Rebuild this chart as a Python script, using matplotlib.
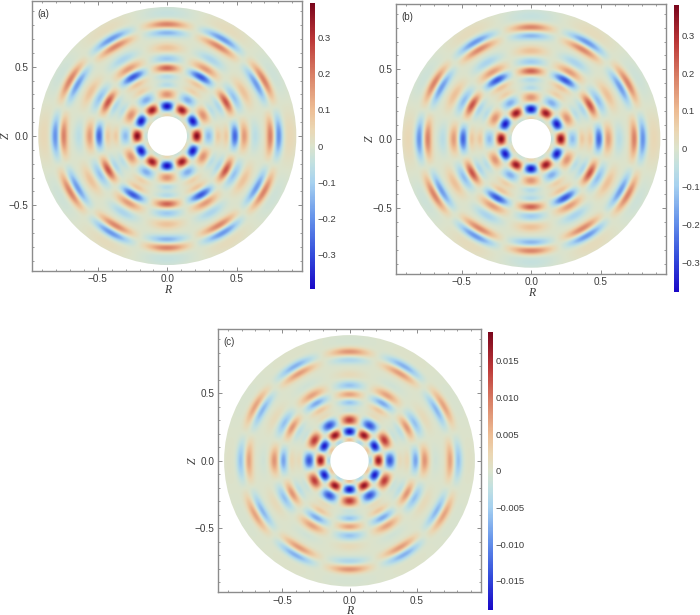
import numpy as np
import matplotlib
matplotlib.use("Agg")
import matplotlib.pyplot as plt
from matplotlib.colors import LinearSegmentedColormap
from matplotlib.patches import Circle
from matplotlib.ticker import FixedLocator, MultipleLocator

# lobes: one list per spoke, one entry per ring
ring_r = [0.158, 0.215, 0.298, 0.365, 0.43, 0.49, 0.555, 0.635, 0.745, 0.805, 0.885]
ring_width = [0.018, 0.026, 0.029, 0.02, 0.02, 0.023, 0.025, 0.025, 0.022, 0.022, 0.04]
ring_spread = [9, 10, 8.5, 7, 7, 7.5, 7.5, 7, 7.5, 7.5, 9]
spoke_deg = [0, 30, 60, 90]

a_spoke0 = [-0.06, 0.39, -0.14, 0.08, 0.08, -0.27, 0.16, -0.06, 0.20, -0.21, 0.04]
a_spoke30 = [0.05, -0.39, 0.17, -0.07, -0.09, 0.26, -0.13, 0.09, -0.19, 0.20, -0.025]
a_spoke60 = [-0.05, 0.36, -0.16, 0.07, 0.09, -0.29, 0.16, -0.09, 0.19, -0.20, 0.03]
a_spoke90 = [0.07, -0.40, 0.17, -0.08, -0.08, 0.24, -0.12, 0.09, -0.15, 0.20, -0.04]

b_spoke0 = [-0.06, 0.37, -0.13, 0.08, 0.08, -0.26, 0.15, -0.06, 0.19, -0.20, 0.04]
b_spoke30 = [0.05, -0.37, 0.16, -0.07, -0.09, 0.25, -0.13, 0.09, -0.18, 0.19, -0.025]
b_spoke60 = [-0.05, 0.35, -0.15, 0.07, 0.09, -0.28, 0.15, -0.09, 0.18, -0.19, 0.03]
b_spoke90 = [0.07, -0.38, 0.16, -0.08, -0.08, 0.23, -0.11, 0.09, -0.14, 0.19, -0.04]

c_spoke0 = [-0.005, 0.0175, -0.014, 0.0022, 0.0022, -0.0085, 0.008, -0.001, 0.007, -0.0062, 0.0004]
c_spoke30 = [0.005, -0.0185, 0.014, -0.0022, -0.003, 0.008, -0.0062, 0.0017, -0.007, 0.007, -0.0003]
c_spoke60 = [-0.005, 0.018, -0.014, 0.0022, 0.004, -0.008, 0.007, -0.001, 0.0075, -0.0075, 0.0003]
c_spoke90 = [0.006, -0.019, 0.014, -0.0022, -0.006, 0.007, -0.006, 0.0017, -0.0042, 0.008, -0.0006]

tick_ab = [-0.3, -0.2, -0.1, 0, 0.1, 0.2, 0.3]
labels_ab = ["\u22120.3", "\u22120.2", "\u22120.1", "0", "0.1", "0.2", "0.3"]
tick_c = [-0.015, -0.01, -0.005, 0, 0.005, 0.01, 0.015]
labels_c = ["\u22120.015", "\u22120.010", "\u22120.005", "0", "0.005", "0.010", "0.015"]

plt.rcParams["font.family"] = ["Liberation Sans", "DejaVu Sans"]

W, H = 700, 615
GREY = "#8c8c8c"
TXT = "#3c3c3c"

cmap = LinearSegmentedColormap.from_list("temp", [
    (0.00, (0.10, 0.03, 0.78)),
    (0.12, (0.20, 0.30, 0.86)),
    (0.25, (0.40, 0.58, 0.92)),
    (0.37, (0.65, 0.82, 0.94)),
    (0.44, (0.76, 0.88, 0.88)),
    (0.50, (0.86, 0.89, 0.80)),
    (0.56, (0.92, 0.84, 0.70)),
    (0.63, (0.93, 0.74, 0.58)),
    (0.75, (0.85, 0.50, 0.40)),
    (0.87, (0.74, 0.22, 0.22)),
    (1.00, (0.48, 0.02, 0.11)),
])


def build_field(spokes):
    x = np.linspace(-0.95, 0.95, 801)
    rr, zz = np.meshgrid(x, x)
    r = np.hypot(rr, zz)
    th = np.degrees(np.arctan2(np.abs(zz), np.abs(rr)))
    f = np.zeros_like(r)
    for deg, vals in zip(spoke_deg, spokes):
        for r0, w, sp, v in zip(ring_r, ring_width, ring_spread, vals):
            f += v * np.exp(-(th - deg) ** 2 / (2 * sp ** 2)) * np.exp(-(r - r0) ** 2 / (2 * w ** 2))
    return f


def panel(box, cbox, spokes, vmax, ticks, labels, tag, rpad=0):
    l, t, r, b = box
    ax = fig.add_axes([l / W, 1 - b / H, (r - l) / W, (b - t) / H])
    im = ax.imshow(build_field(spokes), extent=[-0.95, 0.95, -0.95, 0.95], origin="lower",
                   cmap=cmap, vmin=-vmax, vmax=vmax, interpolation="bilinear", aspect="auto")
    im.set_clip_path(Circle((0, 0), 0.93, transform=ax.transData))
    ax.add_patch(Circle((0, 0), 0.142, facecolor="white", edgecolor="none", zorder=3))
    ax.set_xlim(-0.973, 0.973)
    ax.set_ylim(-0.973, 0.973)
    for s in ax.spines.values():
        s.set_color(GREY)
        s.set_linewidth(1.0)
    ax.xaxis.set_major_locator(FixedLocator([-0.5, 0, 0.5]))
    ax.yaxis.set_major_locator(FixedLocator([-0.5, 0, 0.5]))
    ax.xaxis.set_minor_locator(MultipleLocator(0.1))
    ax.yaxis.set_minor_locator(MultipleLocator(0.1))
    ax.set_xticklabels(["\u22120.5", "0.0", "0.5"])
    ax.set_yticklabels(["\u22120.5", "0.0", "0.5"])
    ax.tick_params(which="major", direction="in", top=True, right=True, length=3, width=0.7,
                   color=GREY, labelsize=7.2, labelcolor=TXT, pad=2.5)
    ax.tick_params(which="minor", direction="in", top=True, right=True, length=1.6, width=0.6, color=GREY)
    ax.set_xlabel("R", family="Liberation Serif", style="italic", fontsize=8.5, color=TXT, labelpad=rpad)
    ax.text(-0.097, 0.5, "Z", transform=ax.transAxes, family="Liberation Serif", style="italic",
            fontsize=8.5, color=TXT, rotation=90, ha="center", va="center")
    ax.text(0.02, 0.97, tag, transform=ax.transAxes, fontsize=7, color=TXT, ha="left", va="top")

    cl, ct, cr, cb_ = cbox
    cax = fig.add_axes([cl / W, 1 - cb_ / H, (cr - cl) / W, (cb_ - ct) / H])
    cb = fig.colorbar(im, cax=cax)
    cb.outline.set_visible(False)
    cb.set_ticks(ticks, labels=labels)
    cb.ax.tick_params(length=0, labelsize=6.8, labelcolor=TXT, pad=1.5)


fig = plt.figure(figsize=(W / 100, H / 100), dpi=100)

panel((32.3, 1, 302.3, 271), (310, 2.7, 315.3, 289.3),
      [a_spoke0, a_spoke30, a_spoke60, a_spoke90], 0.397, tick_ab, labels_ab, "(a)")
panel((396.3, 3.7, 666.3, 273.7), (674.3, 5, 679.3, 292.3),
      [b_spoke0, b_spoke30, b_spoke60, b_spoke90], 0.38, tick_ab, labels_ab, "(b)")
panel((218.3, 329.3, 480.7, 592.3), (488.3, 331.7, 493.3, 610),
      [c_spoke0, c_spoke30, c_spoke60, c_spoke90], 0.019, tick_c, labels_c, "(c)", rpad=-0.9)

fig.savefig("out.png", dpi=100)
